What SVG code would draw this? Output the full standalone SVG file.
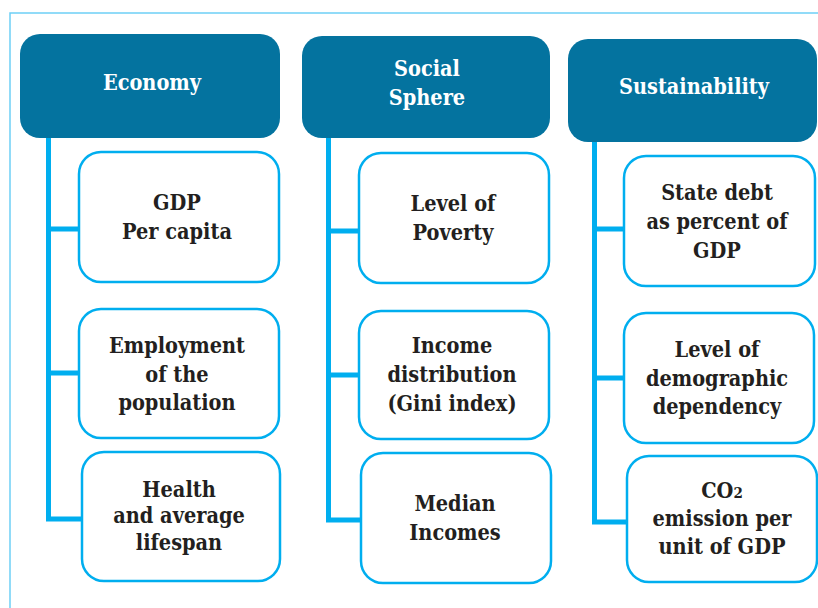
<svg xmlns="http://www.w3.org/2000/svg" width="818" height="608" viewBox="0 0 818 608">
<style>
.hdr{fill:#04739f;}
.box{fill:#ffffff;stroke:#00aeef;stroke-width:2.5;}
.con{fill:none;stroke:#00aeef;stroke-width:5;}
.ht{font-weight:bold;font-size:21.5px;fill:#ffffff;text-anchor:middle;}
.bt{font-weight:bold;font-size:21.5px;fill:#231f20;text-anchor:middle;}
</style>
<rect width="818" height="608" fill="#ffffff"/>
<path d="M10,608 V13 H818" fill="none" stroke="#6dcff6" stroke-width="1.5"/>
<g id="connectors">
<path class="con" d="M48.5,138 V519 H82 M48.5,229 H79 M48.5,373 H79"/>
<path class="con" d="M328.5,138 V520 H361 M328.5,231 H359 M328.5,375 H359"/>
<path class="con" d="M594.5,142 V522 H627 M594.5,229 H624 M594.5,378 H624"/>
</g>
<g font-family="DejaVu Serif Condensed, DejaVu Serif, serif" font-stretch="condensed">
<g id="economy">
<rect class="hdr" x="20" y="34" width="260" height="104" rx="20"/>
<text class="ht" x="152" y="90">Economy</text>
</g>
<g id="social">
<rect class="hdr" x="302" y="36" width="248" height="102" rx="20"/>
<text class="ht" x="427" y="76">Social</text>
<text class="ht" x="427" y="105">Sphere</text>
</g>
<g id="sustainability">
<rect class="hdr" x="568" y="39" width="249" height="103" rx="20"/>
<text class="ht" x="694" y="94">Sustainability</text>
</g>
<g id="gdp">
<rect class="box" x="79" y="152" width="200" height="130" rx="22"/>
<text class="bt" x="177" y="210">GDP</text>
<text class="bt" x="177" y="239">Per capita</text>
</g>
<g id="employment">
<rect class="box" x="79" y="309" width="200" height="129" rx="22"/>
<text class="bt" x="177" y="353">Employment</text>
<text class="bt" x="177" y="382">of the</text>
<text class="bt" x="177" y="410">population</text>
</g>
<g id="health">
<rect class="box" x="82" y="452" width="198" height="129" rx="22"/>
<text class="bt" x="179" y="497">Health</text>
<text class="bt" x="179" y="523">and average</text>
<text class="bt" x="179" y="550">lifespan</text>
</g>
<g id="poverty">
<rect class="box" x="359" y="153" width="190" height="130" rx="22"/>
<text class="bt" x="453" y="211">Level of</text>
<text class="bt" x="453" y="240">Poverty</text>
</g>
<g id="income">
<rect class="box" x="359" y="311" width="190" height="128" rx="22"/>
<text class="bt" x="452" y="353">Income</text>
<text class="bt" x="452" y="382">distribution</text>
<text class="bt" x="452" y="411">(Gini index)</text>
</g>
<g id="median">
<rect class="box" x="361" y="453" width="190" height="130" rx="22"/>
<text class="bt" x="455" y="511">Median</text>
<text class="bt" x="455" y="540">Incomes</text>
</g>
<g id="debt">
<rect class="box" x="624" y="156" width="191" height="130" rx="22"/>
<text class="bt" x="717" y="200">State debt</text>
<text class="bt" x="717" y="229">as percent of</text>
<text class="bt" x="717" y="258">GDP</text>
</g>
<g id="demographic">
<rect class="box" x="624" y="313" width="190" height="130" rx="22"/>
<text class="bt" x="717" y="357">Level of</text>
<text class="bt" x="717" y="386">demographic</text>
<text class="bt" x="717" y="414">dependency</text>
</g>
<g id="co2">
<rect class="box" x="627" y="456" width="190" height="126" rx="22"/>
<text class="bt" x="722" y="498">CO<tspan font-size="15">2</tspan></text>
<text class="bt" x="722" y="526">emission per</text>
<text class="bt" x="722" y="554">unit of GDP</text>
</g>
</g>
</svg>
